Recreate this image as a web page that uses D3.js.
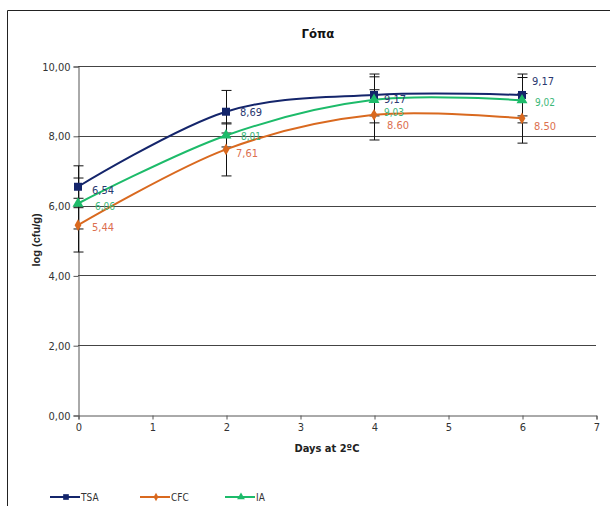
<!DOCTYPE html>
<html><head><meta charset="utf-8">
<script src="https://cdn.jsdelivr.net/npm/d3@7"></script>
<style>
html,body{margin:0;padding:0;background:#fff;}
svg{display:block;font-family:"Liberation Sans Narrow","Arial Narrow","DejaVu Sans Condensed","Liberation Sans",Arial,sans-serif;}
</style></head>
<body>
<script>
const days = [0, 2, 4, 6];
const seriesNames = ["TSA", "CFC", "IA"];
const tsaValues = [6.54, 8.69, 9.17, 9.17];
const cfcValues = [5.44, 7.61, 8.60, 8.50];
const iaValues  = [6.06, 8.01, 9.03, 9.02];
const tsaErrors = [0.60, 0.61, 0.60, 0.60];
const cfcErrors = [0.77, 0.76, 0.72, 0.71];
const iaErrors  = [0.73, 0.33, 0.66, 0.65];
const tsaLabels = ["6,54", "8,69", "9,17", "9,17"];
const cfcLabels = ["5,44", "7,61", "8.60", "8.50"];
const iaLabels  = ["6,06", "8,01", "9,03", "9,02"];
const xTicks = [0, 1, 2, 3, 4, 5, 6, 7];
const yTicks = [0, 2, 4, 6, 8, 10];
const yTickLabels = ["0,00", "2,00", "4,00", "6,00", "8,00", "10,00"];
const title = "Γόπα";
const xTitle = "Days at 2ºC";
const yTitle = "log (cfu/g)";

const W = 610, H = 506;
const svg = d3.select("body").append("svg").attr("width", W).attr("height", H);

// outer frame
svg.append("path").attr("d", "M7.5,506 V10.5 H610").attr("fill", "none").attr("stroke", "#222").attr("stroke-width", 1);

const x = d3.scaleLinear().domain([0, 7]).range([78, 596]);
const y = d3.scaleLinear().domain([0, 10]).range([415, 66]);

// gridlines
svg.append("g").selectAll("line").data(yTicks.filter(d => d > 0)).join("line")
  .attr("x1", x(0)).attr("x2", x(7))
  .attr("y1", d => Math.round(y(d)) + 0.5).attr("y2", d => Math.round(y(d)) + 0.5)
  .attr("stroke", "#444").attr("stroke-width", 1);

// y axis
const yAxis = d3.axisLeft(y).tickValues(yTicks).tickFormat((d, i) => yTickLabels[i]).tickSize(5).tickPadding(3);
const gy = svg.append("g").attr("transform", `translate(${x(0) + 0.5},0.5)`).call(yAxis);
gy.attr("font-family", null);
gy.select(".domain").attr("stroke", "#555");
gy.selectAll(".tick line").attr("stroke", "#555");
gy.selectAll("text").attr("font-size", 11).attr("fill", "#333");

// x axis
const xAxis = d3.axisBottom(x).tickValues(xTicks).tickFormat(d3.format("d")).tickSize(4).tickPadding(4);
const gx = svg.append("g").attr("transform", `translate(0.5,${Math.round(y(0)) + 0.5})`).call(xAxis);
gx.attr("font-family", null);
gx.select(".domain").attr("stroke", "#555");
gx.selectAll(".tick line").attr("stroke", "#555");
gx.selectAll("text").attr("font-size", 11).attr("fill", "#333");

// titles
svg.append("text").attr("x", 318).attr("y", 38).attr("text-anchor", "middle")
  .attr("font-size", 13).attr("font-weight", "bold").attr("fill", "#111").text(title);
svg.append("text").attr("x", 327).attr("y", 452).attr("text-anchor", "middle")
  .attr("font-size", 11).attr("font-weight", "bold").attr("fill", "#222").text(xTitle);
svg.append("text").attr("transform", "translate(40,240) rotate(-90)").attr("text-anchor", "middle")
  .attr("font-size", 11).attr("font-weight", "bold").attr("fill", "#222")
  .style("font-family", "'Liberation Sans',Arial,sans-serif").text(yTitle);

const series = [
  {name: seriesNames[0], values: tsaValues, errors: tsaErrors, labels: tsaLabels, color: "#14256b", labelColor: "#2a3870", marker: "square", fs: 11},
  {name: seriesNames[1], values: cfcValues, errors: cfcErrors, labels: cfcLabels, color: "#d9691f", labelColor: "#dc7050", marker: "diamond", fs: 11},
  {name: seriesNames[2], values: iaValues,  errors: iaErrors,  labels: iaLabels,  color: "#1dbb6a", labelColor: "#3cb878", marker: "triangle", fs: 10}
];
// label offsets (dx, dy) per series & point
const labelOffsets = [
  [[14, 7], [14, 4], [10, 8], [10, -10]],
  [[14, 6], [10, 8], [13, 14], [12, 12]],
  [[17, 6], [15, 5], [10, 16], [13, 6]]
];

// error bars
series.forEach(s => {
  const g = svg.append("g");
  days.forEach((d, i) => {
    const cx = Math.round(x(d)) + 0.5;
    const y1 = y(s.values[i] + s.errors[i]), y2 = y(s.values[i] - s.errors[i]);
    g.append("line").attr("x1", cx).attr("x2", cx).attr("y1", y1).attr("y2", y2).attr("stroke", "#111").attr("stroke-width", 1);
    [y1, y2].forEach(yy => g.append("line").attr("x1", cx - 5).attr("x2", cx + 5).attr("y1", yy).attr("y2", yy).attr("stroke", "#111").attr("stroke-width", 1));
  });
});

const line = d3.line().x(d => x(d[0])).y(d => y(d[1])).curve(d3.curveCardinal.tension(0));

const symbolOf = {square: d3.symbolSquare, diamond: d3.symbolDiamond, triangle: d3.symbolTriangle};
const sizeOf = {square: 64, diamond: 40, triangle: 52};

series.forEach(s => {
  const pts = days.map((d, i) => [d, s.values[i]]);
  svg.append("path").attr("d", line(pts)).attr("fill", "none").attr("stroke", s.color).attr("stroke-width", 2);
});
series.forEach(s => {
  days.forEach((d, i) => {
    svg.append("path").attr("d", d3.symbol().type(symbolOf[s.marker]).size(sizeOf[s.marker])())
      .attr("transform", `translate(${x(d)},${y(s.values[i])})`).attr("fill", s.color);
  });
});
series.forEach((s, si) => {
  days.forEach((d, i) => {
    svg.append("text").attr("x", x(d) + labelOffsets[si][i][0]).attr("y", y(s.values[i]) + labelOffsets[si][i][1])
      .attr("font-size", s.fs).attr("fill", s.labelColor).text(s.labels[i]);
  });
});

// legend
const legendX = [50, 140, 225];
series.forEach((s, i) => {
  const g = svg.append("g").attr("transform", `translate(${legendX[i]},497)`);
  g.append("line").attr("x1", 0).attr("x2", 30).attr("y1", 0).attr("y2", 0).attr("stroke", s.color).attr("stroke-width", 2);
  g.append("path").attr("d", d3.symbol().type(symbolOf[s.marker]).size(sizeOf[s.marker] * 0.5)()).attr("transform", "translate(16,0)").attr("fill", s.color);
  g.append("text").attr("x", 31).attr("y", 4).attr("font-size", 10).attr("fill", "#333").text(s.name);
});
</script>
</body></html>
